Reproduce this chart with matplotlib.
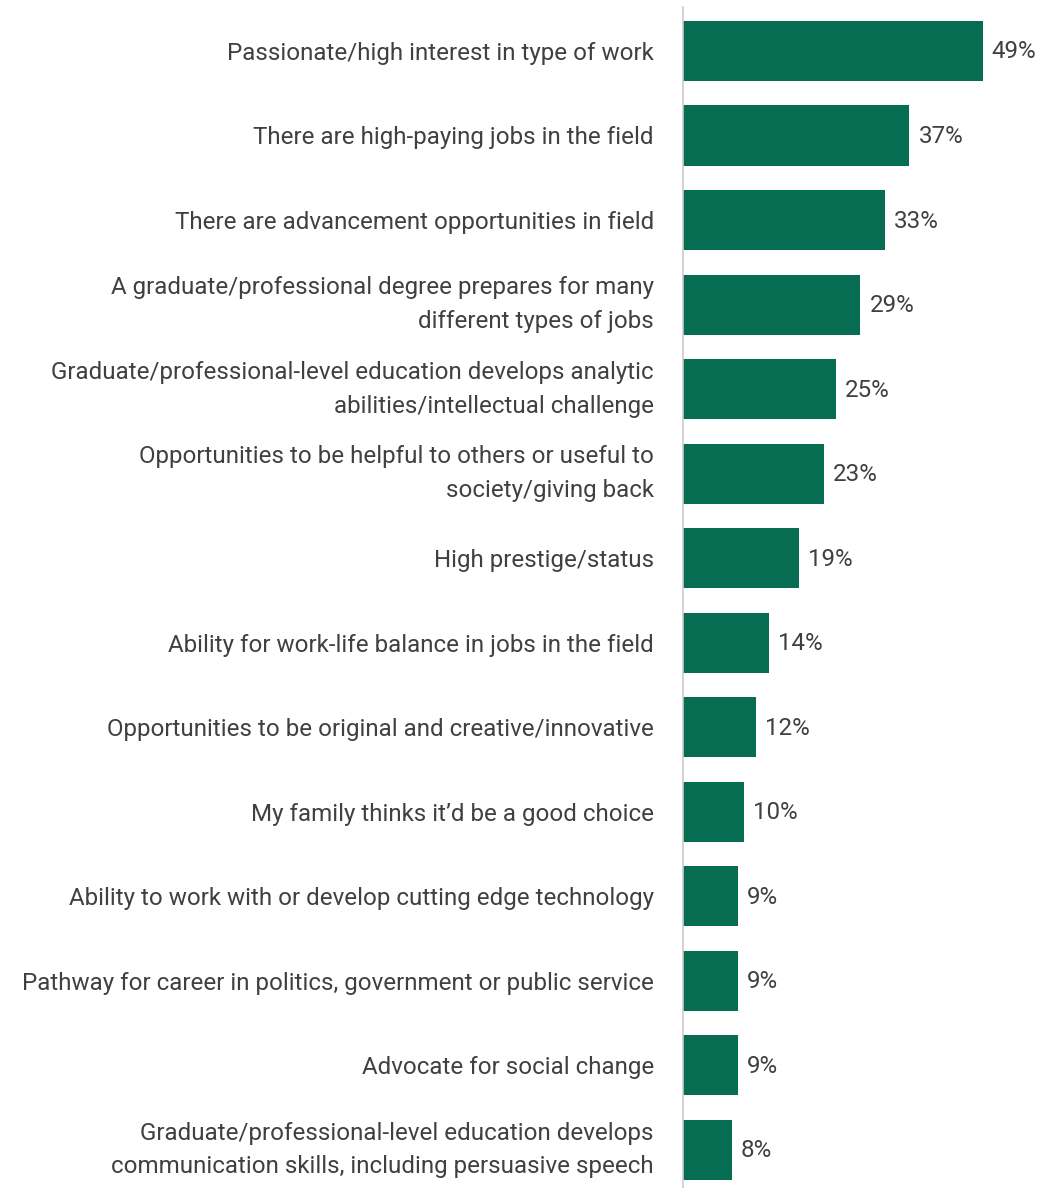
import matplotlib
matplotlib.use("Agg")
import matplotlib.pyplot as plt

categories = [
    "Passionate/high interest in type of work",
    "There are high-paying jobs in the field",
    "There are advancement opportunities in field",
    "A graduate/professional degree prepares for many\ndifferent types of jobs",
    "Graduate/professional-level education develops analytic\nabilities/intellectual challenge",
    "Opportunities to be helpful to others or useful to\nsociety/giving back",
    "High prestige/status",
    "Ability for work-life balance in jobs in the field",
    "Opportunities to be original and creative/innovative",
    "My family thinks it\u2019d be a good choice",
    "Ability to work with or develop cutting edge technology",
    "Pathway for career in politics, government or public service",
    "Advocate for social change",
    "Graduate/professional-level education develops\ncommunication skills, including persuasive speech",
]
values = [49, 37, 33, 29, 25, 23, 19, 14, 12, 10, 9, 9, 9, 8]
value_labels = [f"{v}%" for v in values]

BAR_COLOR = "#066c52"
TEXT_COLOR = "#404040"
FONT = ["Roboto", "DejaVu Sans"]
FS = 17.4

W, H = 1049, 1188
fig = plt.figure(figsize=(W / 100, H / 100), dpi=100)
ax = fig.add_axes([683 / W, 0, (W - 683) / W, (H - 7) / H])

pos = list(range(len(categories)))
ax.barh(pos, values, height=0.71, color=BAR_COLOR)
ax.set_xlim(0, (W - 683) / 6.12)
ax.set_ylim(13.45, -0.52)

for p, v, lab in zip(pos, values, value_labels):
    ax.annotate(lab, (v, p), xytext=(9, -1), textcoords="offset pixels",
                va="center", ha="left", fontsize=FS, color=TEXT_COLOR,
                family=FONT)

ax.set_yticks(pos)
ax.set_yticklabels(categories, fontsize=FS, color=TEXT_COLOR,
                   family=FONT, linespacing=1.6)
# centre two-line labels on their bars
for t in ax.get_yticklabels():
    if "\n" in t.get_text():
        t.set_va("center")
ax.tick_params(axis="y", length=0, pad=21)
ax.set_xticks([])
for side in ["top", "right", "bottom"]:
    ax.spines[side].set_visible(False)
ax.spines["left"].set_color("#cccccc")
ax.spines["left"].set_linewidth(1.2)

fig.savefig("out.png", dpi=100, facecolor="white")
